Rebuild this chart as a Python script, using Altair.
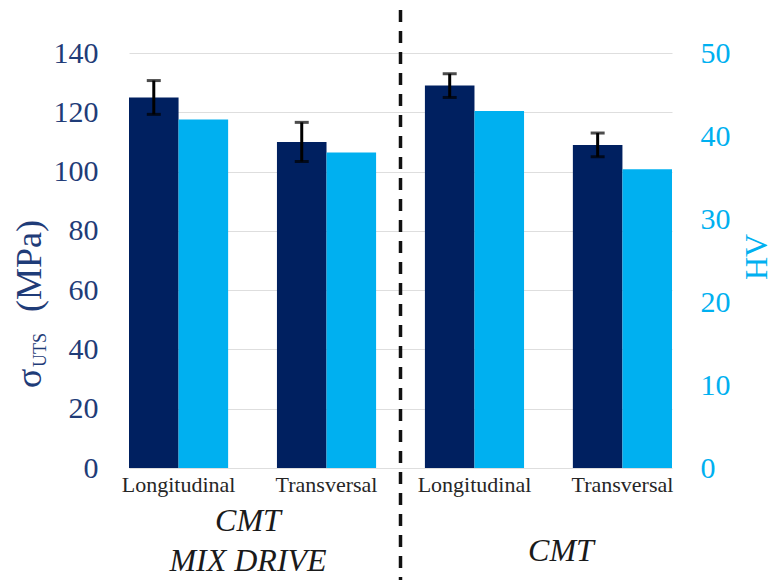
import altair as alt
import pandas as pd

# ---------------- data ----------------
categories = ["MIX_L", "MIX_T", "CMT_L", "CMT_T"]
tick_labels = ["Longitudinal", "Transversal", "Longitudinal", "Transversal"]
uts_values = [125, 110, 129, 109]          # sigma_UTS (MPa)
uts_errors = [5.7, 6.6, 4.0, 4.0]          # +/- error (MPa)
hv_values = [42, 38, 43, 36]               # hardness HV
series = ["UTS", "HV"]
left_ticks = [0, 20, 40, 60, 80, 100, 120, 140]
right_ticks = [0, 10, 20, 30, 40, 50]
group_titles = [["CMT", "MIX DRIVE"], ["CMT"]]

# ---------------- layout / style ----------------
W, H = 543, 415
PAD = {"left": 121, "top": 45, "right": 101, "bottom": 112}
NAVY = "#002060"
CYAN = "#00B0F0"
AXIS_NAVY = "#1F3C78"
FONT = "Liberation Serif"
P_IN = 0.33

step = W / (len(categories) - P_IN)
sep_x = step * 2 - step * P_IN / 2   # midpoint between 2nd and 3rd group

df = pd.DataFrame({"cat": categories, "uts": uts_values,
                   "err": uts_errors, "hv": hv_values})
df["lo"] = df["uts"] - df["err"]
df["hi"] = df["uts"] + df["err"]

label_expr = " : ".join(
    f"datum.value == '{c}' ? '{l}'" for c, l in zip(categories, tick_labels)
) + " : ''"

x_enc = alt.X(
    "cat:N", sort=categories,
    scale=alt.Scale(domain=categories, paddingInner=P_IN, paddingOuter=0),
    axis=alt.Axis(title=None, labelExpr=label_expr, labelFont=FONT,
                  labelFontSize=22, labelColor="#262626", labelAngle=0,
                  labelPadding=6, domain=False, ticks=False),
)
xo_scale = alt.Scale(domain=series, paddingInner=0, paddingOuter=0)
left_scale = alt.Scale(domain=[0, 140], nice=False, zero=True)
right_scale = alt.Scale(domain=[0, 50], nice=False, zero=True)

base = alt.Chart(df)

dark = base.transform_calculate(s="'UTS'").mark_bar(color=NAVY).encode(
    x=x_enc,
    xOffset=alt.XOffset("s:N", scale=xo_scale),
    y=alt.Y("uts:Q", scale=left_scale,
            axis=alt.Axis(values=left_ticks, title=None, grid=True,
                          gridColor="#DEDEDE", gridWidth=1, domain=False,
                          ticks=False, labelFont=FONT, labelFontSize=30,
                          labelColor=AXIS_NAVY, labelPadding=31)),
)

light = base.transform_calculate(s="'HV'").mark_bar(color=CYAN).encode(
    x=x_enc,
    xOffset=alt.XOffset("s:N", scale=xo_scale),
    y=alt.Y("hv:Q", scale=right_scale,
            axis=alt.Axis(orient="right", values=right_ticks, title=None,
                          grid=False, domain=False, ticks=False,
                          labelFont=FONT, labelFontSize=30, labelColor=CYAN,
                          labelPadding=28)),
)

err_rule = base.transform_calculate(s="'UTS'").mark_rule(
    color="black", strokeWidth=3).encode(
    x=x_enc,
    xOffset=alt.XOffset("s:N", scale=xo_scale),
    y=alt.Y("lo:Q", scale=left_scale, axis=None),
    y2="hi:Q",
)
cap_lo = base.transform_calculate(s="'UTS'").mark_tick(
    color="black", thickness=3, size=14).encode(
    x=x_enc,
    xOffset=alt.XOffset("s:N", scale=xo_scale),
    y=alt.Y("lo:Q", scale=left_scale, axis=None),
)
cap_hi = base.transform_calculate(s="'UTS'").mark_tick(
    color="black", thickness=3, size=14).encode(
    x=x_enc,
    xOffset=alt.XOffset("s:N", scale=xo_scale),
    y=alt.Y("hi:Q", scale=left_scale, axis=None),
)

one = alt.Chart(pd.DataFrame({"k": [0]}))

divider = one.mark_rule(color="#111111", strokeWidth=3.5,
                        strokeDash=[12, 9]).encode(
    x=alt.value(sep_x), y=alt.value(-43), y2=alt.value(H + PAD["bottom"]))

title_left_1 = one.mark_text(
    text=group_titles[0], font=FONT, fontSize=32, fontStyle="italic",
    align="center", baseline="alphabetic", lineHeight=40, color="#1a1a1a"
).encode(x=alt.value(119), y=alt.value(478))
title_right = one.mark_text(
    text=group_titles[1], font=FONT, fontSize=32, fontStyle="italic",
    align="center", baseline="alphabetic", color="#1a1a1a"
).encode(x=alt.value(432), y=alt.value(508))

sigma = one.mark_text(text="σ", font=FONT, fontSize=36, angle=270,
                      align="left", baseline="alphabetic", color=AXIS_NAVY
                      ).encode(x=alt.value(-88), y=alt.value(335))
sub = one.mark_text(text="UTS", font=FONT, fontSize=18, angle=270,
                    align="left", baseline="alphabetic", color=AXIS_NAVY
                    ).encode(x=alt.value(-83), y=alt.value(314))
mpa = one.mark_text(text="(MPa)", font=FONT, fontSize=36, angle=270,
                    align="left", baseline="alphabetic", color=AXIS_NAVY
                    ).encode(x=alt.value(-88), y=alt.value(259))
hv_title = one.mark_text(text="HV", font=FONT, fontSize=32, angle=270,
                         align="center", baseline="alphabetic", color=CYAN
                         ).encode(x=alt.value(638), y=alt.value(204))

chart = alt.layer(
    dark, light, err_rule, cap_lo, cap_hi, divider,
    title_left_1, title_right, sigma, sub, mpa, hv_title,
).resolve_scale(y="independent").properties(
    width=W, height=H,
    autosize=alt.AutoSizeParams(type="none"),
    padding=PAD,
    background="white",
).configure_view(stroke=None)

chart.save("out.html", embed_options={"renderer": "svg", "actions": False})
